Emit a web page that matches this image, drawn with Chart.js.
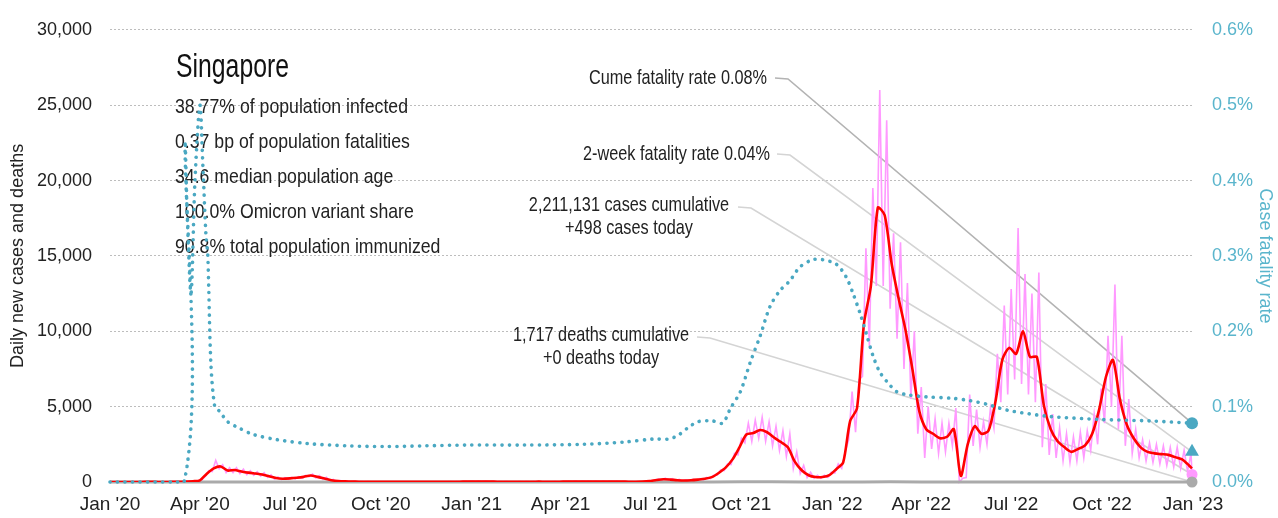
<!DOCTYPE html>
<html lang="en">
<head>
<meta charset="UTF-8">
<title>Singapore COVID-19</title>
<script src="https://cdn.jsdelivr.net/npm/chart.js@4/dist/chart.umd.min.js"></script>
<style>
  body { margin: 0; background: #fff; }
  #wrap { width: 1278px; height: 518px; }
</style>
</head>
<body>
<div id="wrap"><canvas id="chart" width="1278" height="518"></canvas></div>
<script>
// x values are days since 1 Jan 2020
const xTickDates = ['2020-01-01', '2020-04-01', '2020-07-01', '2020-10-01', '2021-01-01', '2021-04-01',
  '2021-07-01', '2021-10-01', '2022-01-01', '2022-04-01', '2022-07-01', '2022-10-01', '2023-01-01'];
const xTickLabels = ["Jan '20", "Apr '20", "Jul '20", "Oct '20", "Jan '21", "Apr '21",
  "Jul '21", "Oct '21", "Jan '22", "Apr '22", "Jul '22", "Oct '22", "Jan '23"];

// 7-day average of new cases, one value per week from 1 Jan 2020
const avgCases = [
  0, 0, 1, 2, 3, 5, 7, 3, 2, 5,
  12, 30, 50, 110, 550, 900, 1030, 760, 800, 700, 620, 560, 500, 380, 260, 220, 240, 280, 340, 430, 340, 230, 120, 60, 40, 30,
  20, 15, 12, 10, 8, 8, 7, 8, 10, 8, 8, 10, 12, 15, 18, 22, 25,
  28, 30, 25, 20, 15, 12, 15, 18, 20, 22, 20, 18, 20, 25, 28, 30, 35, 30, 28, 30, 35, 25, 20, 18, 25, 60, 130,
  180, 160, 120, 100, 120, 160, 210, 320, 600, 950, 1500, 2300, 3150, 3250, 3450, 3300, 2950, 2650, 2300, 1350, 780, 450, 330, 330, 450, 850, 1300,
  4040, 4900, 10500, 13000, 18200, 17700, 14500, 12200, 10100, 7500,
  4700, 3500, 3200, 2900, 3000, 3500, 400, 2500, 3700, 3200,
  3400, 5300, 8100, 8900, 8500, 10000, 8300, 8300, 5100, 3500,
  2700, 2300, 2000, 2200, 2450, 3200, 4800, 7000, 8100, 5500,
  3800, 2900, 2300, 2000, 1900, 1850, 1800, 1650, 1500, 1100
];

// daily new cases: weekly high and low of the reported counts
const dailyHigh = [
  0, 1, 2, 4, 6, 9, 12, 6, 4, 9,
  20, 45, 80, 150, 750, 1430, 1150, 950, 950, 850, 750, 680, 620, 470, 330, 290, 310, 350, 430, 520, 430, 310, 170, 90, 60, 45,
  30, 25, 20, 16, 14, 13, 12, 14, 16, 14, 13, 16, 20, 24, 28, 33, 38,
  40, 42, 36, 30, 24, 20, 24, 28, 30, 33, 30, 27, 30, 36, 40, 44, 50, 44, 40, 44, 50, 36, 30, 27, 38, 90, 200,
  260, 220, 170, 140, 170, 230, 300, 450, 800, 1200, 1900, 2900, 3900, 4100, 4300, 4000, 3700, 3400, 3200, 2000, 1100, 650, 450, 450, 650, 1200, 2000,
  6000, 6800, 15500, 19500, 26000, 24000, 16500, 15900, 13200, 10000,
  6300, 5000, 4200, 3900, 3900, 4900, 250, 5800, 4800, 4000,
  4900, 8500, 11700, 12800, 16850, 13800, 12500, 13900, 6500, 4500,
  3600, 3200, 3000, 3300, 3400, 4500, 6200, 9700, 13100, 9700,
  5500, 3500, 2800, 2600, 2500, 2400, 2300, 2300, 2100, 1900
];
const dailyLow = [
  0, 0, 0, 1, 1, 2, 3, 1, 1, 2,
  6, 18, 30, 70, 380, 700, 880, 620, 620, 560, 480, 440, 390, 300, 190, 160, 180, 210, 260, 350, 270, 170, 80, 40, 25, 18,
  12, 8, 6, 5, 4, 4, 3, 4, 5, 4, 4, 5, 6, 8, 10, 12, 14,
  18, 20, 16, 12, 8, 6, 8, 10, 12, 13, 12, 10, 12, 16, 18, 20, 22, 18, 16, 18, 22, 16, 12, 10, 14, 40, 90,
  120, 110, 80, 60, 80, 110, 140, 220, 450, 750, 1150, 1800, 2600, 2700, 2900, 2700, 2400, 2100, 1700, 900, 550, 300, 250, 250, 300, 600, 900,
  2800, 3300, 7000, 9000, 13000, 13000, 11500, 9500, 7500, 5500,
  3200, 1600, 2200, 1900, 2000, 2400, 0, 300, 2400, 2300,
  2500, 3600, 5300, 5800, 6800, 6500, 5800, 5300, 2300, 1800,
  1600, 1400, 1300, 1400, 1600, 2100, 2500, 3900, 5000, 3500,
  2400, 1900, 1600, 1400, 1300, 1200, 1100, 1000, 900, 700
];

// daily deaths, monthly averages
const deathsMonthly = [
  0, 0, 0.1, 0.3, 0.2, 0.1, 0, 0, 0, 0, 0, 0,
  0, 0, 0, 0, 0.1, 0, 0.1, 0.3, 2, 10, 12, 5,
  1, 5, 12, 6, 2, 1, 4, 3, 2, 4, 1, 0.5
];

// case fatality rate (%) by day
const cfrDays = [0, 75, 76, 78, 82, 86, 91, 94, 97, 99, 102, 106, 110, 113, 119, 130, 145, 170, 200, 240,
  280, 320, 360, 420, 480, 520, 550, 565, 575, 585, 595, 610, 620, 628, 638, 648, 658, 668, 678, 688,
  698, 711, 721, 735, 745, 752, 759, 766, 772, 779, 789, 796, 806, 826, 853, 870, 888, 900, 913, 951,
  1002, 1053, 1095];
const cfrPct = [0, 0, 0.45, 0.36, 0.25, 0.40, 0.50, 0.42, 0.33, 0.30, 0.16, 0.10, 0.095, 0.09, 0.08, 0.072, 0.063, 0.056, 0.051, 0.048,
  0.047, 0.048, 0.049, 0.049, 0.050, 0.053, 0.057, 0.057, 0.062, 0.072, 0.080, 0.081, 0.078, 0.098, 0.12, 0.159, 0.194, 0.233, 0.254, 0.267,
  0.285, 0.295, 0.295, 0.289, 0.272, 0.25, 0.224, 0.194, 0.168, 0.146, 0.129, 0.12, 0.116, 0.113, 0.111, 0.108, 0.103, 0.098, 0.094, 0.087,
  0.083, 0.081, 0.078];

const lastDate = '2022-12-31';
const casesToday = 498;
const avgToday = 900;
const deathsToday = 0;
const twoWeekCfr = 0.04;

const statLines = [
  '38.77% of population infected',
  '0.37 bp of population fatalities',
  '34.6 median population age',
  '100.0% Omicron variant share',
  '90.8% total population immunized'
];

// narrow face when one is installed; the 'condensed' keyword goes into the font shorthand
const FAMILY = "'Liberation Sans', 'DejaVu Sans', sans-serif";
const STRETCH = 'condensed';
const TEAL = '#4aa8c2';
const TEAL_TEXT = '#5ab5cc';
const PINK = '#ff99ff';

function dayOf(s) {
  return (Date.parse(s + 'T00:00:00Z') - Date.UTC(2020, 0, 1)) / 86400000;
}
const lastDay = dayOf(lastDate);
const tickDays = xTickDates.map(dayOf);

// build point lists
const avgPoints = avgCases.map((v, i) => ({ x: i * 7, y: v }));
avgPoints.push({ x: lastDay, y: avgToday });

const dailyPoints = [];
dailyHigh.forEach((hi, i) => {
  dailyPoints.push({ x: Math.max(0, i * 7 - 1.5), y: dailyLow[i] });
  dailyPoints.push({ x: i * 7 + 2, y: hi });
});
dailyPoints.push({ x: lastDay, y: casesToday });

const deathPoints = deathsMonthly.map((v, i) => ({ x: (Date.UTC(2020, i, 1) - Date.UTC(2020, 0, 1)) / 86400000, y: v }));
deathPoints.push({ x: lastDay, y: deathsToday });

const cfrPoints = cfrDays.map((d, i) => ({ x: d, y: cfrPct[i] }));

function lastOnly(r) {
  return ctx => ctx.dataIndex === ctx.dataset.data.length - 1 ? r : 0;
}

// draw text squeezed horizontally so it sets as narrow as a condensed face
function narrowText(ctx, text, x, y, align, squeeze) {
  const w = ctx.measureText(text).width * squeeze;
  let left = x;
  if (align === 'right') left = x - w;
  else if (align === 'center') left = x - w / 2;
  ctx.save();
  ctx.translate(left, y);
  ctx.scale(squeeze, 1);
  ctx.textAlign = 'left';
  ctx.fillText(text, 0, 0);
  ctx.restore();
}

function squeezeTo(ctx, text, width) {
  return Math.min(1, width / ctx.measureText(text).width);
}

// labels, stats block and leader lines to the end markers
const notes = {
  id: 'notes',
  beforeDatasetsDraw(chart) {
    const { ctx, scales } = chart;
    const xs = scales.x, yl = scales.y, yr = scales.y1;
    const ex = xs.getPixelForValue(lastDay);
    ctx.save();
    ctx.textBaseline = 'middle';

    ctx.fillStyle = '#111';
    ctx.font = STRETCH + ' 33px ' + FAMILY;
    narrowText(ctx, 'Singapore', 176, 68, 'left', squeezeTo(ctx, 'Singapore', 113));

    ctx.font = STRETCH + ' 21px ' + FAMILY;
    ctx.fillStyle = '#222';
    const statSqueeze = squeezeTo(ctx, statLines[0], 233);
    statLines.forEach((t, i) => narrowText(ctx, t, 175, 107 + i * 35, 'left', statSqueeze));

    const noteSqueeze = squeezeTo(ctx, 'Cume fatality rate 0.08%', 178);
    const leaders = [
      { lines: ['Cume fatality rate 0.08%'], align: 'right', tx: 767, ty: 78, sx: 775, ey: yr.getPixelForValue(cfrPct[cfrPct.length - 1]), color: '#b3b3b3' },
      { lines: ['2-week fatality rate 0.04%'], align: 'right', tx: 770, ty: 154, sx: 777, ey: yr.getPixelForValue(twoWeekCfr), color: '#d4d4d4' },
      { lines: ['2,211,131 cases cumulative', '+498 cases today'], align: 'center', tx: 629, ty: 205, sx: 738, ey: yl.getPixelForValue(casesToday), color: '#d4d4d4' },
      { lines: ['1,717 deaths cumulative', '+0 deaths today'], align: 'center', tx: 601, ty: 335, sx: 697, ey: yl.getPixelForValue(deathsToday), color: '#d4d4d4' }
    ];
    leaders.forEach(l => {
      ctx.fillStyle = '#222';
      l.lines.forEach((t, i) => narrowText(ctx, t, l.tx, l.ty + i * 23, l.align, noteSqueeze));
      const sy = l.lines.length > 1 ? l.ty + 2 : l.ty;
      ctx.strokeStyle = l.color;
      ctx.lineWidth = 1.6;
      ctx.beginPath();
      ctx.moveTo(l.sx, sy);
      ctx.lineTo(l.sx + 13, sy + 1);
      ctx.lineTo(ex, l.ey);
      ctx.stroke();
    });
    ctx.restore();
  }
};

const xTickFont = { family: FAMILY, size: 19, weight: STRETCH };
const yTickFont = { family: FAMILY, size: 18, weight: STRETCH };

new Chart(document.getElementById('chart'), {
  type: 'line',
  data: {
    datasets: [
      {
        label: 'Case fatality rate',
        data: cfrPoints,
        yAxisID: 'y1',
        borderColor: TEAL,
        borderWidth: 3.6,
        borderDash: [0.1, 7.4],
        borderCapStyle: 'round',
        pointRadius: lastOnly(6),
        pointBackgroundColor: TEAL,
        pointBorderWidth: 0,
        tension: 0.3,
        clip: false,
        order: 1
      },
      {
        label: '2-week fatality rate',
        data: [{ x: lastDay, y: twoWeekCfr }],
        yAxisID: 'y1',
        showLine: false,
        pointStyle: 'triangle',
        pointRadius: 8,
        pointBackgroundColor: TEAL,
        pointBorderWidth: 0,
        clip: false,
        order: 1
      },
      {
        label: '7-day average',
        data: avgPoints,
        yAxisID: 'y',
        borderColor: '#ff0000',
        borderWidth: 2.6,
        pointRadius: 0,
        tension: 0.25,
        order: 2
      },
      {
        label: 'Deaths',
        data: deathPoints,
        yAxisID: 'y',
        borderColor: '#aaaaaa',
        borderWidth: 3,
        pointRadius: lastOnly(5.5),
        pointBackgroundColor: '#aaaaaa',
        pointBorderWidth: 0,
        clip: false,
        order: 3
      },
      {
        label: 'Daily cases',
        data: dailyPoints,
        yAxisID: 'y',
        borderColor: PINK,
        borderWidth: 1.6,
        pointRadius: lastOnly(5.5),
        pointBackgroundColor: PINK,
        pointBorderWidth: 0,
        clip: false,
        order: 4
      }
    ]
  },
  options: {
    responsive: false,
    animation: false,
    layout: { padding: { top: 21, bottom: 0, left: 0, right: 0 } },
    plugins: { legend: { display: false }, tooltip: { enabled: false } },
    scales: {
      x: {
        type: 'linear',
        min: 0,
        max: tickDays[tickDays.length - 1],
        grid: { display: false },
        border: { display: false },
        afterBuildTicks: s => { s.ticks = tickDays.map(v => ({ value: v })); },
        afterFit: s => { s.height = 36; },
        ticks: {
          callback: (v, i) => xTickLabels[i],
          autoSkip: false,
          maxRotation: 0,
          padding: 3,
          color: '#222',
          font: xTickFont
        }
      },
      y: {
        position: 'left',
        min: 0,
        max: 30000,
        afterFit: s => { s.width = 110; },
        grid: { color: '#bdbdbd', lineWidth: 1, drawTicks: false },
        border: { display: false, dash: [2, 2] },
        ticks: {
          stepSize: 5000,
          padding: 18,
          color: '#222',
          font: yTickFont,
          callback: v => v.toLocaleString('en-US')
        },
        title: {
          display: true,
          text: 'Daily new cases and deaths',
          color: '#222',
          font: { family: FAMILY, size: 18, weight: STRETCH },
          padding: { top: 7, bottom: 0 }
        }
      },
      y1: {
        position: 'right',
        min: 0,
        max: 0.6,
        afterFit: s => { s.width = 85; },
        grid: { drawOnChartArea: false, drawTicks: false },
        border: { display: false },
        ticks: {
          stepSize: 0.1,
          padding: 19,
          color: TEAL_TEXT,
          font: yTickFont,
          callback: v => v.toFixed(1) + '%'
        },
        title: {
          display: true,
          text: 'Case fatality rate',
          color: TEAL_TEXT,
          font: { family: FAMILY, size: 18, weight: STRETCH },
          padding: { top: 2, bottom: 0 }
        }
      }
    }
  },
  plugins: [notes]
});
</script>
</body>
</html>
